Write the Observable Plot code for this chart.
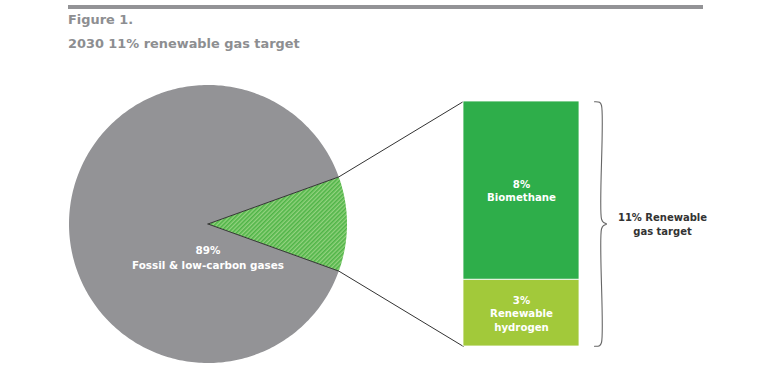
<!DOCTYPE html>
<html><head><meta charset="utf-8">
<script src="https://cdn.jsdelivr.net/npm/d3@7"></script>
<script src="https://cdn.jsdelivr.net/npm/@observablehq/plot@0.6"></script>
<style>
body{margin:0;background:#fff;font-family:"DejaVu Sans",sans-serif;}
#wrap{position:relative;width:765px;height:391px;overflow:hidden}
#header{position:relative;height:60px}
#rule{position:absolute;left:68px;top:5px;width:635px;height:4px;background:#939396}
.t{position:absolute;left:68px;font-weight:700;font-size:12.9px;color:#8d8e91;white-space:nowrap;line-height:16px}
#chart svg{display:block}
</style></head>
<body><div id="wrap">
<div id="header"><div id="rule"></div>
<div class="t" style="top:12px">Figure 1.</div>
<div class="t" style="top:36px">2030 11% renewable gas target</div></div>
<div id="chart"></div></div>
<script>
// ---- data ----
const categories = ["Fossil & low-carbon gases", "Biomethane", "Renewable hydrogen"];
const shares = [89, 8, 3];
const shareLabels = ["89%", "8%", "3%"];
const nameLabels = ["Fossil & low-carbon gases", "Biomethane", "Renewable\nhydrogen"];
const colors = ["#939396", "#2eae4a", "#a2c93a"];
const targetLabel = "11% Renewable\ngas target";

// ---- layout (pixels) ----
const W = 765, H = 331;
const FONT = "DejaVu Sans";
const barTopPx = 41, barBottomPx = 286;          // bar extent in svg px
const renewTotal = shares[1] + shares[2];
const K = (barBottomPx - barTopPx) / renewTotal;  // px per percentage point
const pieCxPx = 207.5, pieRPx = 139;
const barX1Px = 463, barX2Px = 579;
const u = p => p / K;                              // px -> scale units

// ---- pie geometry from data ----
const totalAll = shares[0] + renewTotal;
const half = Math.PI * renewTotal / totalAll;
const cx = u(pieCxPx), cy = renewTotal / 2, r = u(pieRPx);
function arcPoints(name, a0, a1) {
  const n = Math.max(2, Math.ceil((a1 - a0) / (Math.PI / 180)));
  const pts = [{name, x: cx, y: cy}];
  for (let i = 0; i <= n; i++) {
    const a = a0 + (a1 - a0) * i / n;
    pts.push({name, x: cx + r * Math.cos(a), y: cy + r * Math.sin(a)});
  }
  pts.push({name, x: cx, y: cy});
  return pts;
}
const fossilPts = arcPoints("fossil", half, 2 * Math.PI - half);
const renewPts = arcPoints("renewable", -half, half);

// connectors: centre -> slice edge -> bar corner
const connectors = [
  {g: "top", x: cx, y: cy}, {g: "top", x: cx + r * Math.cos(half), y: cy + r * Math.sin(half)}, {g: "top", x: u(barX1Px), y: renewTotal},
  {g: "bot", x: cx, y: cy}, {g: "bot", x: cx + r * Math.cos(-half), y: cy + r * Math.sin(-half)}, {g: "bot", x: u(barX1Px), y: 0}
];

// ---- stacked bar from data (hydrogen bottom, biomethane top) ----
const barOrder = [2, 1];
const ends = d3.cumsum(barOrder.map(i => shares[i]));
const bars = barOrder.map((i, j) => ({
  name: categories[i], fill: colors[i],
  y1: ends[j] - shares[i], y2: ends[j],
  label: shareLabels[i] + "\n" + nameLabels[i]
}));

// ---- brace ----
const bx0 = u(594), bx1 = u(601), bx2 = u(606);
const e = u(1), c = u(5);
const brace = [
  [bx0, renewTotal - e*0.2], [bx0 + u(5), renewTotal - e*0.8], [bx1, renewTotal - c*0.8],
  [bx1, cy + c], [bx1 + u(2), cy + u(1.6)], [bx2, cy], [bx1 + u(2), cy - u(1.6)], [bx1, cy - c],
  [bx1, c*0.8], [bx0 + u(5), e*0.8], [bx0, e*0.2]
].map(([x, y]) => ({x, y}));

const chart = Plot.plot({
  width: W, height: H,
  marginTop: 0, marginRight: 0, marginBottom: 0, marginLeft: 0,
  x: {domain: [0, u(W)], range: [0, W], axis: null},
  y: {domain: [0, renewTotal], range: [barBottomPx, barTopPx], axis: null},
  marks: [
    Plot.line(fossilPts, {x: "x", y: "y", fill: colors[0], stroke: "none", curve: "linear"}),
    Plot.line(renewPts, {x: "x", y: "y", fill: "url(#hatch)", stroke: "none", curve: "linear"}),
    Plot.line(connectors, {x: "x", y: "y", z: "g", stroke: "#333", strokeWidth: 1}),
    Plot.rect(bars, {x1: u(barX1Px), x2: u(barX2Px), y1: "y1", y2: "y2", fill: "fill", stroke: "#fff", strokeWidth: 0.8}),
    Plot.text(bars, {x: u((barX1Px + barX2Px) / 2), y: d => (d.y1 + d.y2) / 2, text: "label", fill: "#fff", fontWeight: 700, fontSize: 10.2, lineHeight: 1.3, fontFamily: FONT}),
    Plot.text([shareLabels[0] + "\n" + nameLabels[0]], {x: cx, y: cy - u(33), text: d => d, fill: "#fff", fontWeight: 700, fontSize: 10.4, lineHeight: 1.4, fontFamily: FONT}),
    Plot.line(brace, {x: "x", y: "y", stroke: "#666", strokeWidth: 1.1, curve: "catmull-rom"}),
    Plot.text([targetLabel], {x: u(662), y: cy, text: d => d, fill: "#333", fontWeight: 700, fontSize: 10, lineHeight: 1.4, fontFamily: FONT})
  ]
});
chart.style.fontFamily = FONT;
const ns = "http://www.w3.org/2000/svg";
const defs = document.createElementNS(ns, "defs");
defs.innerHTML = '<pattern id="hatch" patternUnits="userSpaceOnUse" width="3" height="3" patternTransform="rotate(45)"><rect width="3" height="3" fill="#93d27f"/><rect width="1.6" height="3" fill="#4fb447"/></pattern>';
chart.insertBefore(defs, chart.firstChild);
document.getElementById("chart").appendChild(chart);
</script>
</body></html>
